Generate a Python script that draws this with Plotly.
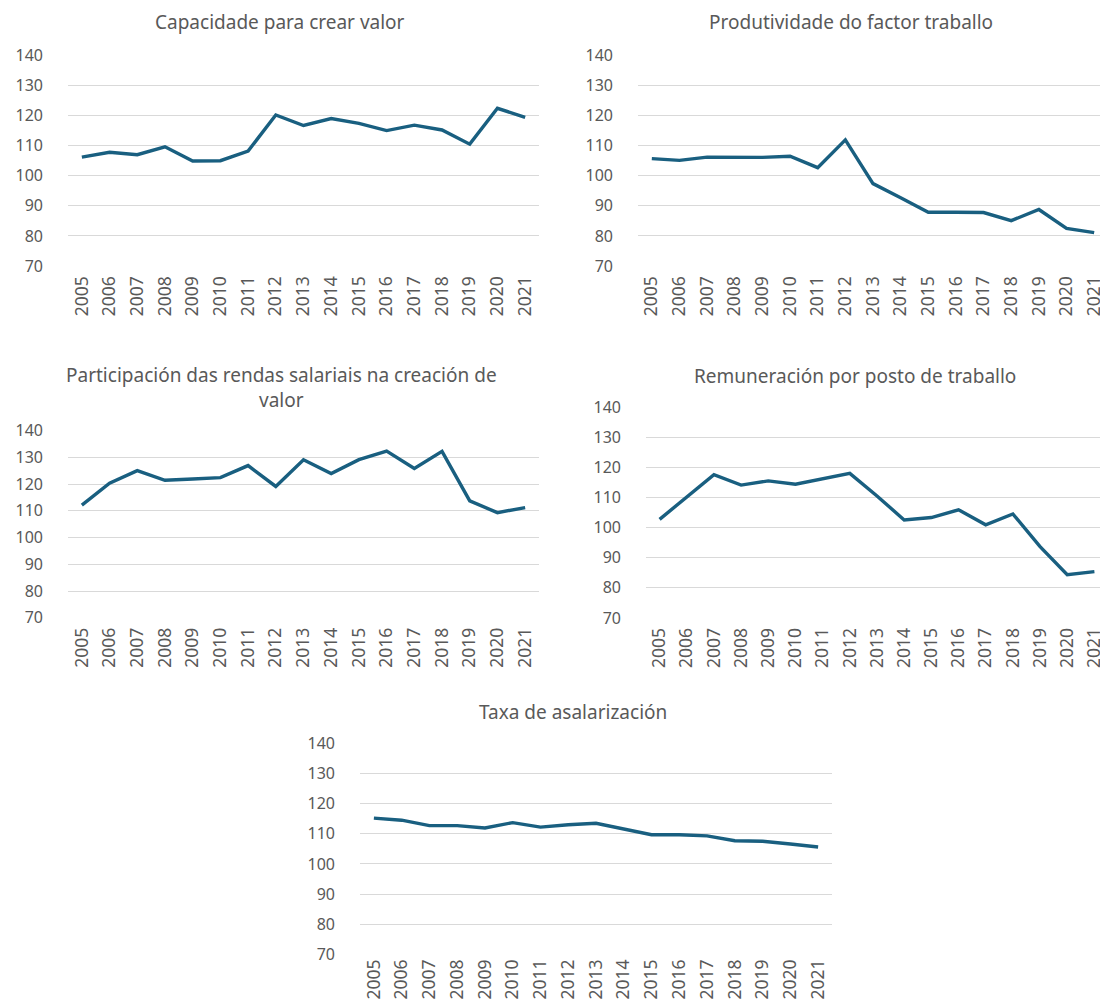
import plotly.graph_objects as go

years = ["2005", "2006", "2007", "2008", "2009", "2010", "2011", "2012", "2013",
         "2014", "2015", "2016", "2017", "2018", "2019", "2020", "2021"]

capacidade = [106.2, 107.8, 107.0, 109.6, 104.9, 105.0, 108.2, 120.2, 116.7,
              119.0, 117.4, 115.0, 116.8, 115.2, 110.5, 122.4, 119.4]
produtividade = [105.7, 105.1, 106.2, 106.2, 106.1, 106.5, 102.7, 111.9, 97.4,
                 92.7, 87.9, 87.9, 87.8, 85.1, 88.8, 82.5, 81.1]
participacion = [112.1, 120.3, 125.0, 121.4, 121.9, 122.4, 126.9, 119.1, 129.1,
                 123.9, 129.1, 132.3, 125.8, 132.2, 113.7, 109.3, 111.2]
remuneracion = [102.8, 110.2, 117.7, 114.2, 115.6, 114.5, 116.2, 118.1, 110.6,
                102.6, 103.4, 106.0, 101.0, 104.6, 93.7, 84.4, 85.4]
taxa = [115.2, 114.5, 112.7, 112.7, 111.9, 113.7, 112.2, 113.0, 113.5,
        111.6, 109.7, 109.7, 109.3, 107.7, 107.5, 106.6, 105.6]

titles = [
    "Capacidade para crear valor",
    "Produtividade do factor traballo",
    "Participación das rendas salariais na creación de<br>valor",
    "Remuneración por posto de traballo",
    "Taxa de asalarización",
]
y_ticks = [70, 80, 90, 100, 110, 120, 130, 140]

# the page body has an 8px margin, so the figure is 8px smaller and all
# reference pixel positions are shifted by OFF
OFF = 8
W, H = 1108 - OFF, 1003 - OFF
LINE = "#195f80"
TXT = "#595959"
GRID = "#d9d9d9"
FONT = "Noto Sans"

# reference pixel boxes: (x0, x1, ytop, ybottom)
boxes = [
    (68, 539, 54.7, 266.7),
    (638, 1108, 54.7, 266.7),
    (68, 539, 430, 618.3),
    (646, 1108, 407, 618.5),
    (360, 832, 742.7, 955),
]
x_standoff = [5, 5, 5, 5, 0]
title_pos = [(280, 22), (851, 22), (281, 387), (855, 376), (573, 712)]

series = [capacidade, produtividade, participacion, remuneracion, taxa]


def px(v):
    return (v - OFF) / W


def py(v):
    return 1 - (v - OFF) / H


fig = go.Figure()
for i, (vals, box) in enumerate(zip(series, boxes)):
    n = "" if i == 0 else str(i + 1)
    x0, x1, yt, yb = box
    fig.add_trace(go.Scatter(
        x=years, y=vals, mode="lines",
        line=dict(color=LINE, width=3.4),
        xaxis="x" + n, yaxis="y" + n, showlegend=False,
        hoverinfo="x+y",
    ))
    fig.layout["xaxis" + n] = dict(
        domain=[max(px(x0), 0), min(px(x1), 1.0)], anchor="y" + n,
        type="category",
        range=[-0.5, 16.5], tickangle=-90, showgrid=False, showline=False,
        ticks="", tickfont=dict(family=FONT, size=17.5, color=TXT),
        fixedrange=True, automargin=False, ticklabelstandoff=x_standoff[i],
    )
    fig.layout["yaxis" + n] = dict(
        domain=[py(yb), py(yt)], anchor="x" + n,
        range=[69.8, 140.2], tickvals=y_ticks, showgrid=True,
        gridcolor=GRID, gridwidth=1.3, zeroline=False, showline=False,
        ticks="", ticklabelstandoff=24,
        tickfont=dict(family=FONT, size=16, color=TXT), fixedrange=True,
        automargin=False,
    )
    tx, ty = title_pos[i]
    fig.add_annotation(
        x=px(tx), y=py(ty), xref="paper", yref="paper",
        text=titles[i], showarrow=False, xanchor="center", yanchor="middle",
        font=dict(family=FONT, size=19, color=TXT), align="center",
    )

fig.update_layout(
    template="none",
    width=W, height=H, margin=dict(l=0, r=0, t=0, b=0, autoexpand=False),
    paper_bgcolor="white", plot_bgcolor="white",
    font=dict(family=FONT, color=TXT),
)

fig.write_html("out.html")
